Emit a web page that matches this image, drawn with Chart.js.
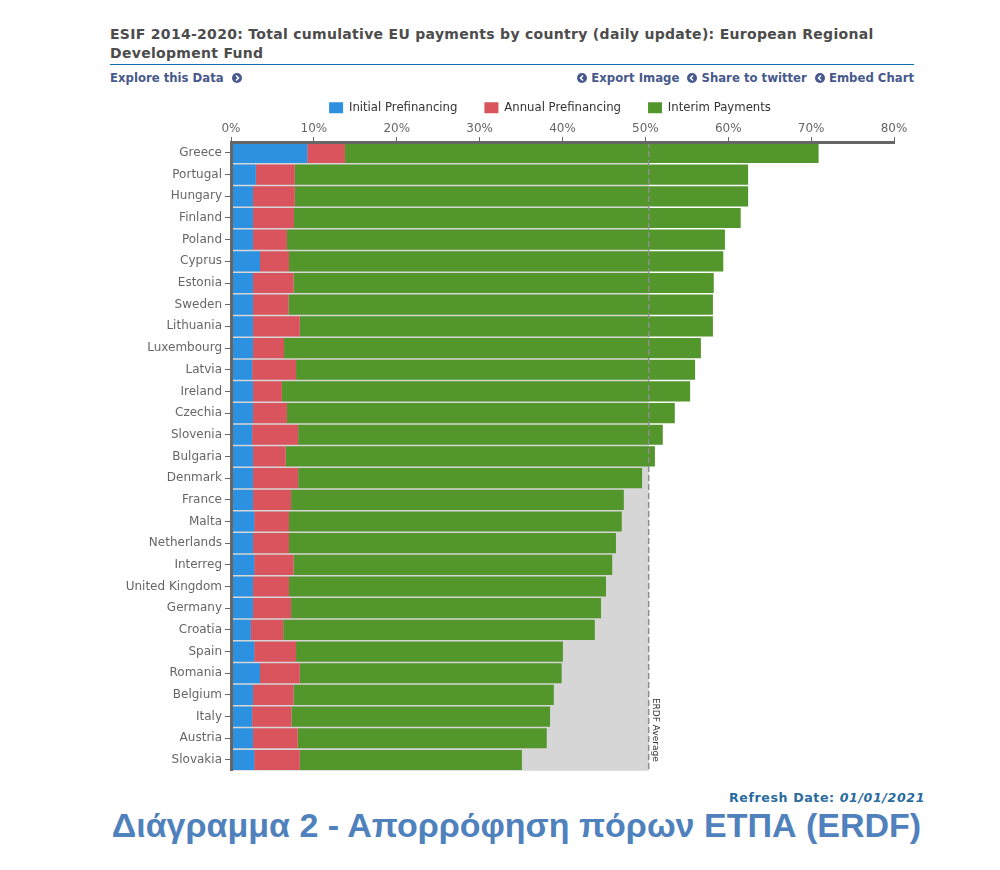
<!DOCTYPE html>
<html>
<head>
<meta charset="utf-8">
<title>ESIF 2014-2020</title>
<script src="https://cdn.jsdelivr.net/npm/chart.js@4"></script>
<style>
  html, body { margin: 0; padding: 0; background: #fff; }
  body { position: relative; width: 1000px; height: 870px; overflow: hidden; font-family: "DejaVu Sans", sans-serif; filter: blur(0.4px); }
  #title { position: absolute; left: 110px; top: 25px; width: 804px; height: 39px; font-size: 14px; font-weight: bold; line-height: 19px; color: #4c4c4c; letter-spacing: 0.3px; border-bottom: 1px solid #0e6cb0; }
  .links { position: absolute; top: 71px; font-size: 11.7px; font-weight: bold; color: #47598c; line-height: 14px; white-space: nowrap; }
  .links svg { vertical-align: -1px; }
  .links .gap { margin-left: 4px; }
  #refresh { position: absolute; right: 75px; top: 790px; font-size: 12.6px; letter-spacing: 0.6px; font-weight: bold; color: #2a6c9f; white-space: nowrap; }
  #caption { position: absolute; left: 0; width: 1033px; text-align: center; top: 806px; font-family: "Liberation Sans", sans-serif; font-size: 34px; font-weight: bold; color: #4f81bd; white-space: nowrap; }
  #chart { position: absolute; left: 100px; top: 72px; }
</style>
</head>
<body>
<div id="title">ESIF 2014-2020: Total cumulative EU payments by country (daily update): European Regional Development Fund</div>
<div class="links" style="left:110px">Explore this Data &nbsp;<svg width="10" height="10" viewBox="0 0 10 10"><circle cx="5" cy="5" r="5" fill="#47598c"/><path d="M4 2.5L6.5 5L4 7.5" stroke="#fff" stroke-width="1.5" fill="none"/></svg></div>
<div class="links" style="right:86px">
  <svg width="10" height="10" viewBox="0 0 10 10"><circle cx="5" cy="5" r="5" fill="#47598c"/><path d="M6 2.5L3.5 5L6 7.5" stroke="#fff" stroke-width="1.5" fill="none"/></svg> Export Image
  <svg class="gap" width="10" height="10" viewBox="0 0 10 10"><circle cx="5" cy="5" r="5" fill="#47598c"/><path d="M6 2.5L3.5 5L6 7.5" stroke="#fff" stroke-width="1.5" fill="none"/></svg> Share to twitter
  <svg class="gap" width="10" height="10" viewBox="0 0 10 10"><circle cx="5" cy="5" r="5" fill="#47598c"/><path d="M6 2.5L3.5 5L6 7.5" stroke="#fff" stroke-width="1.5" fill="none"/></svg> Embed Chart
</div>
<canvas id="chart" width="900" height="709"></canvas>
<div id="refresh">Refresh Date: <i>01/01/2021</i></div>
<div id="caption">Διάγραμμα 2 - Απορρόφηση πόρων ΕΤΠΑ (ERDF)</div>

<script>
const countries = ["Greece","Portugal","Hungary","Finland","Poland","Cyprus","Estonia","Sweden","Lithuania","Luxembourg","Latvia","Ireland","Czechia","Slovenia","Bulgaria","Denmark","France","Malta","Netherlands","Interreg","United Kingdom","Germany","Croatia","Spain","Romania","Belgium","Italy","Austria","Slovakia"];
const initialPrefinancing = [9.2,3.0,2.65,2.65,2.65,3.5,2.65,2.65,2.65,2.65,2.55,2.65,2.65,2.55,2.65,2.65,2.65,2.8,2.65,2.8,2.65,2.65,2.4,2.8,3.5,2.65,2.55,2.65,2.8];
const annualPrefinancing = [4.55,4.7,5.05,4.95,4.1,3.5,4.9,4.3,5.65,3.75,5.3,3.5,4.1,5.55,3.95,5.45,4.6,4.2,4.35,4.75,4.35,4.6,3.9,5.05,4.8,4.9,4.75,5.4,5.5];
const interimPayments = [57.15,54.7,54.7,53.9,52.85,52.4,50.7,51.2,49.85,50.3,48.15,49.25,46.8,44.0,44.55,41.5,40.15,40.15,39.45,38.45,38.25,37.4,37.6,32.2,31.6,31.4,31.2,30.05,26.8];
const erdfAverage = 50.4;

// legend is centred on the whole canvas, not on the padded plot box
const legendShift = {
  id: 'legendShift',
  afterLayout(chart) {
    chart.legend.left = 0;
    chart.legend.right = chart.width;
    chart.legend.top += 3;
  }
};

// dashed average line + rotated label
const averageLine = {
  id: 'averageLine',
  afterDatasetsDraw(chart) {
    const { ctx, chartArea, scales } = chart;
    const x = scales.x.getPixelForValue(erdfAverage);
    ctx.save();
    ctx.strokeStyle = '#8e8e8e';
    ctx.lineWidth = 1.5;
    ctx.setLineDash([6, 3]);
    ctx.beginPath();
    ctx.moveTo(x, chartArea.top);
    ctx.lineTo(x, chartArea.bottom);
    ctx.stroke();
    ctx.setLineDash([]);
    ctx.translate(x + 2, chartArea.bottom - 9);
    ctx.rotate(Math.PI / 2);
    ctx.fillStyle = '#333';
    ctx.font = '9px "DejaVu Sans"';
    ctx.textAlign = 'right';
    ctx.textBaseline = 'bottom';
    ctx.fillText('ERDF Average', 0, 0);
    ctx.restore();
  }
};

new Chart(document.getElementById('chart'), {
  type: 'bar',
  plugins: [legendShift, averageLine],
  data: {
    labels: countries,
    datasets: [
      { label: 'Initial Prefinancing', data: initialPrefinancing, backgroundColor: '#2b91e0', stack: 'pay', order: 1 },
      { label: 'Annual Prefinancing', data: annualPrefinancing, backgroundColor: '#da545e', stack: 'pay', order: 1 },
      { label: 'Interim Payments', data: interimPayments, backgroundColor: '#53962c', stack: 'pay', order: 1 },
      { label: 'ERDF Average', data: countries.map(() => erdfAverage), backgroundColor: '#d6d6d6', stack: 'avg', order: 2, barPercentage: 1 }
    ]
  },
  options: {
    indexAxis: 'y',
    responsive: false,
    animation: false,
    datasets: { bar: { grouped: false, categoryPercentage: 1, barPercentage: 0.93 } },
    layout: { padding: { bottom: 4, right: 106 } },
    plugins: {
      tooltip: { enabled: false },
      legend: {
        position: 'top',
        labels: {
          boxWidth: 14,
          boxHeight: 11,
          padding: 27,
          color: '#333',
          font: { family: '"DejaVu Sans"', size: 11.7 },
          filter: item => item.text !== 'ERDF Average'
        }
      }
    },
    scales: {
      x: {
        position: 'top',
        stacked: true,
        min: 0,
        max: 80,
        ticks: { stepSize: 10, maxRotation: 0, color: '#666', padding: 1, font: { family: '"DejaVu Sans"', size: 12 }, callback: v => v + '%' },
        grid: { drawOnChartArea: false, color: '#666', tickLength: 5 },
        border: { color: '#666', width: 3, z: 1 }
      },
      y: {
        stacked: true,
        afterFit: s => { s.width = 131; },
        ticks: { autoSkip: false, color: '#666', padding: 3, font: { family: '"DejaVu Sans"', size: 12 } },
        grid: { drawOnChartArea: false, color: '#666', tickLength: 6, offset: false },
        border: { color: '#666', width: 3, z: 1 }
      }
    }
  }
});
</script>
</body>
</html>
